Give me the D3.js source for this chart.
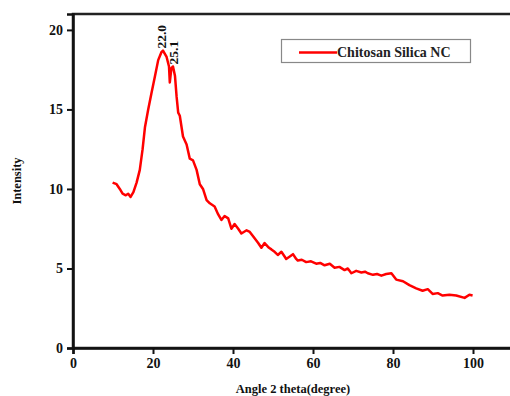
<!DOCTYPE html>
<html>
<head>
<meta charset="utf-8">
<script src="https://cdn.jsdelivr.net/npm/d3@7"></script>
<style>
  body { margin: 0; background: #fff; }
  svg { display: block; font-family: "Liberation Serif", "Times New Roman", serif; }
</style>
</head>
<body>
<div id="chart"></div>
<script>
// XRD pattern
const angle = [9.9, 10.9, 11.7, 12.4, 13.2, 13.8, 14.4, 15.1, 15.9, 16.7, 17.4, 18.0, 18.8, 19.6, 20.5, 21.3, 22.1, 22.5,
  23.4, 24.0, 24.2, 24.6, 25.0, 25.5, 25.9, 26.3, 26.7, 27.5, 28.4, 29.2, 30.0, 30.9, 31.7, 32.5, 33.4, 34.2, 35.4,
  36.3, 37.1, 37.9, 38.8, 39.6, 40.4, 41.3, 42.1, 43.4, 44.2, 45.4, 46.3, 47.1, 47.9, 49.0, 49.6, 50.4, 51.2, 52.1,
  52.9, 53.3, 54.2, 55.0, 55.8, 56.2, 57.2, 58.3, 59.5, 60.8, 61.8, 62.9, 64.2, 65.4, 66.6, 67.9, 68.7, 69.6, 70.8,
  72.1, 73.0, 73.7, 75.0, 76.0, 77.1, 78.3, 79.6, 80.8, 82.5, 84.1, 85.8, 87.4, 88.7, 89.9, 91.2, 92.4, 94.1, 95.8,
  97.9, 99.1, 99.9]
const intensity = [10.4, 10.3, 10.0, 9.7, 9.6, 9.7, 9.5, 9.8, 10.4, 11.2, 12.5, 13.9, 15.0, 16.0, 17.1, 18.1, 18.6, 18.7,
  18.3, 17.7, 16.7, 17.6, 17.7, 17.1, 15.8, 14.8, 14.6, 13.3, 12.8, 11.9, 11.8, 11.2, 10.3, 10.0, 9.3, 9.1, 8.9,
  8.4, 8.05, 8.3, 8.15, 7.5, 7.8, 7.5, 7.2, 7.4, 7.3, 6.9, 6.6, 6.3, 6.6, 6.3, 6.2, 6.05, 5.85, 6.05,
  5.75, 5.6, 5.75, 5.9, 5.6, 5.5, 5.55, 5.4, 5.45, 5.3, 5.35, 5.2, 5.3, 5.05, 5.1, 4.9, 5.0, 4.7, 4.85,
  4.75, 4.8, 4.7, 4.6, 4.65, 4.55, 4.65, 4.7, 4.3, 4.2, 3.95, 3.75, 3.6, 3.7, 3.4, 3.45, 3.3, 3.35, 3.3,
  3.15, 3.35, 3.3]

const xTicks = [0, 20, 40, 60, 80, 100]
const yTicks = [0, 5, 10, 15, 20]
const peakLabels = ["22.0", "25.1"]
const peakAngles = [22.0, 25.1]
const peakHeights = [18.7, 17.7]
const seriesName = "Chitosan Silica NC"

const width = 510
const height = 396
const margin = { top: 14, right: -3, bottom: 48, left: 73 }

const svg = d3.select("#chart")
  .append("svg")
  .attr("width", width)
  .attr("height", height)

const x = d3.scaleLinear()
  .domain([0, 110])
  .range([margin.left, width - margin.right])

const y = d3.scaleLinear()
  .domain([0, 21])
  .range([height - margin.bottom, margin.top])

// frame (right side runs off the picture)
svg.append("rect")
  .attr("x", x(0))
  .attr("y", y(21))
  .attr("width", x(110) - x(0))
  .attr("height", y(0) - y(21))
  .attr("fill", "none")
  .attr("stroke", "#222")
  .attr("stroke-width", 2.5)

const xAxis = svg.append("g")
  .attr("transform", `translate(0, ${y(0)})`)
  .call(d3.axisBottom(x).tickValues(xTicks).tickSize(6).tickPadding(4).tickFormat(d3.format("d")))

const yAxis = svg.append("g")
  .attr("transform", `translate(${x(0)}, 0)`)
  .call(d3.axisLeft(y).tickValues(yTicks).tickSize(6).tickPadding(4).tickFormat(d3.format("d")))

for (const ax of [xAxis, yAxis]) {
  ax.select(".domain").attr("stroke", "#111").attr("stroke-width", 2.5)
  ax.selectAll(".tick line").attr("stroke", "#111").attr("stroke-width", 2)
  ax.selectAll(".tick text")
    .attr("fill", "#111")
    .style("font-family", "Liberation Serif")
    .style("font-size", "14px")
    .style("font-weight", "bold")
}

// the curve
const pts = angle.map((a, i) => [a, intensity[i]])
const line = d3.line()
  .x(d => x(d[0]))
  .y(d => y(d[1]))
  .curve(d3.curveLinear)

svg.append("path")
  .datum(pts)
  .attr("fill", "none")
  .attr("stroke", "#ff0000")
  .attr("stroke-width", 2.5)
  .attr("stroke-linejoin", "round")
  .attr("d", line)

// peak labels, vertical
svg.append("g")
  .selectAll("text")
  .data(peakLabels)
  .enter()
  .append("text")
  .attr("transform", (d, i) => `translate(${x(peakAngles[i]) + 4.5}, ${y(peakHeights[i]) - 2}) rotate(-90)`)
  .attr("text-anchor", "start")
  .style("font-size", "13.5px")
  .style("font-weight", "bold")
  .attr("fill", "#111")
  .text(d => d)

// legend
const lg = svg.append("g")
lg.append("rect")
  .attr("x", 281.5)
  .attr("y", 39.5)
  .attr("width", 189)
  .attr("height", 23)
  .attr("fill", "#fff")
  .attr("stroke", "#888")
  .attr("stroke-width", 1.2)
lg.append("line")
  .attr("x1", 299)
  .attr("x2", 337)
  .attr("y1", 52.5)
  .attr("y2", 52.5)
  .attr("stroke", "#ff0000")
  .attr("stroke-width", 2.5)
lg.append("text")
  .attr("x", 337)
  .attr("y", 57)
  .style("font-size", "14px")
  .style("font-weight", "bold")
  .attr("fill", "#222")
  .text(seriesName)

// axis titles
svg.append("text")
  .attr("x", (x(0) + x(110)) / 2)
  .attr("y", 393)
  .attr("text-anchor", "middle")
  .style("font-size", "12.5px")
  .style("font-weight", "bold")
  .attr("fill", "#111")
  .text("Angle 2 theta(degree)")

svg.append("text")
  .attr("transform", `translate(21, ${(y(0) + y(21)) / 2}) rotate(-90)`)
  .attr("text-anchor", "middle")
  .style("font-size", "12.5px")
  .style("font-weight", "bold")
  .attr("fill", "#111")
  .text("Intensity")
</script>
</body>
</html>
